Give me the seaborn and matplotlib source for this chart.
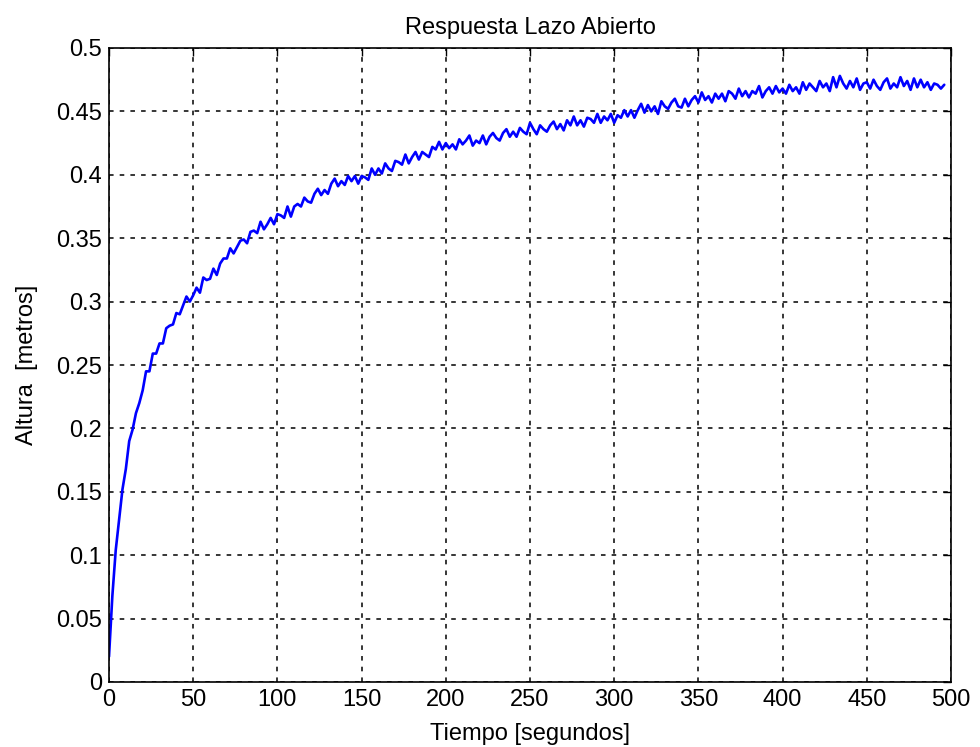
import matplotlib
matplotlib.use("Agg")
import matplotlib.pyplot as plt
import seaborn as sns
import pandas as pd

tiempo = list(range(0, 498, 2))

# Height (metres), including the visible noise
altura = [
    0.020, 0.068, 0.104, 0.128, 0.152, 0.168, 0.190, 0.199, 0.212, 0.220,
    0.230, 0.245, 0.245, 0.259, 0.259, 0.267, 0.267, 0.279, 0.281, 0.282,
    0.291, 0.290, 0.297, 0.304, 0.300, 0.305, 0.311, 0.307, 0.319, 0.317,
    0.318, 0.326, 0.321, 0.330, 0.334, 0.334, 0.342, 0.338, 0.343, 0.348,
    0.349, 0.346, 0.355, 0.356, 0.354, 0.363, 0.357, 0.361, 0.366, 0.361,
    0.369, 0.368, 0.366, 0.375, 0.367, 0.375, 0.377, 0.375, 0.382, 0.379,
    0.378, 0.385, 0.389, 0.384, 0.388, 0.385, 0.393, 0.397, 0.391, 0.395,
    0.392, 0.399, 0.395, 0.399, 0.393, 0.399, 0.398, 0.396, 0.405, 0.400,
    0.405, 0.401, 0.409, 0.405, 0.403, 0.411, 0.410, 0.408, 0.416, 0.409,
    0.414, 0.418, 0.412, 0.418, 0.416, 0.414, 0.422, 0.420, 0.426, 0.420,
    0.425, 0.421, 0.424, 0.420, 0.428, 0.424, 0.427, 0.431, 0.423, 0.427,
    0.425, 0.431, 0.424, 0.430, 0.433, 0.429, 0.427, 0.433, 0.436, 0.430,
    0.434, 0.430, 0.437, 0.434, 0.432, 0.441, 0.436, 0.432, 0.439, 0.436,
    0.434, 0.439, 0.442, 0.436, 0.440, 0.435, 0.443, 0.439, 0.446, 0.439,
    0.443, 0.438, 0.445, 0.444, 0.441, 0.448, 0.441, 0.446, 0.443, 0.448,
    0.441, 0.447, 0.445, 0.451, 0.446, 0.451, 0.445, 0.451, 0.456, 0.449,
    0.455, 0.450, 0.454, 0.448, 0.458, 0.454, 0.452, 0.457, 0.460, 0.454,
    0.453, 0.460, 0.454, 0.459, 0.462, 0.457, 0.465, 0.459, 0.462, 0.457,
    0.464, 0.460, 0.464, 0.458, 0.466, 0.464, 0.460, 0.468, 0.462, 0.466,
    0.461, 0.466, 0.464, 0.470, 0.461, 0.466, 0.469, 0.464, 0.470, 0.465,
    0.468, 0.464, 0.471, 0.466, 0.469, 0.464, 0.473, 0.467, 0.472, 0.469,
    0.466, 0.474, 0.469, 0.472, 0.466, 0.477, 0.469, 0.478, 0.472, 0.468,
    0.474, 0.469, 0.476, 0.467, 0.472, 0.473, 0.468, 0.475, 0.470, 0.467,
    0.473, 0.476, 0.468, 0.472, 0.469, 0.477, 0.470, 0.474, 0.467, 0.476,
    0.469, 0.475, 0.469, 0.473, 0.467, 0.472, 0.471, 0.468, 0.471,
]

x_ticks = [0, 50, 100, 150, 200, 250, 300, 350, 400, 450, 500]
y_ticks = [0, 0.05, 0.1, 0.15, 0.2, 0.25, 0.3, 0.35, 0.4, 0.45, 0.5]
y_tick_labels = ["0", "0.05", "0.1", "0.15", "0.2", "0.25", "0.3", "0.35", "0.4", "0.45", "0.5"]

titulo = "Respuesta Lazo Abierto"
etiqueta_x = "Tiempo [segundos]"
etiqueta_y = "Altura  [metros]"

sns.set_style("white")
plt.rcParams["font.family"] = ["Liberation Sans", "DejaVu Sans"]
plt.rcParams["text.color"] = "black"
plt.rcParams["axes.labelcolor"] = "black"
plt.rcParams["xtick.color"] = "black"
plt.rcParams["ytick.color"] = "black"

df = pd.DataFrame({"t": tiempo, "h": altura})

fig = plt.figure(figsize=(9.8, 7.47), dpi=100)
ax = fig.add_axes([109 / 980, 1 - 682 / 747, (951 - 109) / 980, (682 - 48) / 747])

sns.lineplot(data=df, x="t", y="h", ax=ax, color="#0000ff", linewidth=1.9, zorder=3)

ax.set_xlim(0, 500)
ax.set_ylim(0, 0.5)
ax.set_xticks(x_ticks)
ax.set_xticklabels([str(v) for v in x_ticks])
ax.set_yticks(y_ticks)
ax.set_yticklabels(y_tick_labels)

ax.grid(True, color="black", linestyle=(0, (3, 4)), linewidth=1.1)
ax.set_axisbelow(True)
for s in ax.spines.values():
    s.set_visible(True)
    s.set_color("black")
    s.set_linewidth(1.2)
    s.set_zorder(4)

ax.tick_params(axis="both", direction="in", length=6, width=1.0, color="black",
               labelcolor="black", labelsize=17, top=True, right=True, pad=5)

ax.set_title(titulo, fontsize=17, pad=10, color="black")
ax.set_xlabel(etiqueta_x, fontsize=17, labelpad=9, color="black")
ax.set_ylabel(etiqueta_y, fontsize=17, labelpad=13, color="black")

fig.savefig("out.png", dpi=100, facecolor="white")
